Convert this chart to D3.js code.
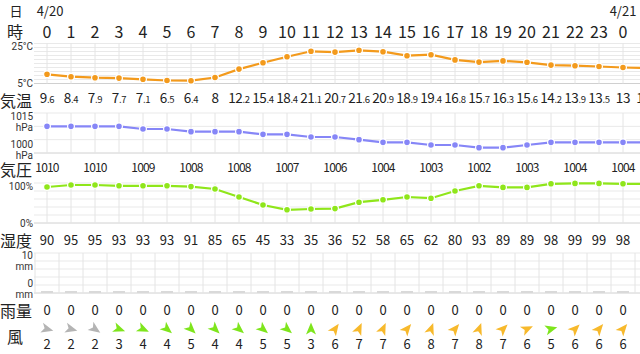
<!DOCTYPE html>
<html>
<head>
<meta charset="utf-8">
<script src="https://cdn.jsdelivr.net/npm/d3@7"></script>
<style>
  body { margin: 0; background: #fff; }
  svg { display: block; font-family: "Noto Sans CJK JP", "Noto Sans", sans-serif; }
</style>
</head>
<body>
<svg id="chart"></svg>
<script>
// hourly data, 4/20 0時 .. 4/21 1時
const hours = [0,1,2,3,4,5,6,7,8,9,10,11,12,13,14,15,16,17,18,19,20,21,22,23,0];
const temps = [9.6,8.4,7.9,7.7,7.1,6.5,6.4,8,12.2,15.4,18.4,21.1,20.7,21.6,20.9,18.9,19.4,16.8,15.7,16.3,15.6,14.2,13.9,13.5,13,12.7];
const pressure = [1010,1010,1010,1010,1009,1009,1008,1008,1008,1007,1007,1006,1006,1005,1004,1004,1003,1003,1002,1002,1003,1004,1004,1004,1004,1004];
const humidity = [90,95,95,93,93,93,91,85,65,45,33,35,36,52,58,65,62,80,93,89,89,98,99,99,98,98];
const rain = [0,0,0,0,0,0,0,0,0,0,0,0,0,0,0,0,0,0,0,0,0,0,0,0,0];
const windSpeed = [2,2,2,3,4,4,5,4,4,5,5,3,6,7,7,6,8,7,8,7,6,5,6,6,6];
const windDir = [105,105,125,110,115,130,135,135,130,130,130,0,35,25,25,40,20,40,20,45,65,75,45,40,40];
const dates = [{i: 0, label: '4/20'}, {i: 24, label: '4/21'}];
const rowLabels = [['時', 31], ['気温', 100], ['気圧', 169], ['湿度', 240], ['雨量', 310], ['風', 336]];

const width = 640, height = 354;
const left = 34;

const svg = d3.select('#chart').attr('width', width).attr('height', height);

const x = d3.scaleLinear().domain([0, 25]).range([47, 647]);

// panel scales (each panel is 40px tall)
const yTemp = d3.scaleLinear().domain([5, 25]).range([83.5, 43.5]);
const yPres = d3.scaleLinear().domain([1000, 1015]).range([153, 113]);
const yHum = d3.scaleLinear().domain([0, 100]).range([223, 183]);
const yRain = d3.scaleLinear().domain([0, 10]).range([293, 253]);

// grid for one panel
function grid(y, step, verticalAt) {
  const g = svg.append('g');
  const [lo, hi] = y.domain();
  g.selectAll('.h')
    .data(d3.range(lo, hi + 0.001, step))
    .join('line')
      .attr('x1', left).attr('x2', width)
      .attr('y1', d => y(d)).attr('y2', d => y(d))
      .attr('stroke', (d, i) => (i === 0 ? '#d0d0d0' : '#e9e9e9'))
      .attr('stroke-width', 1);
  g.selectAll('.v')
    .data(verticalAt)
    .join('line')
      .attr('x1', d => d).attr('x2', d => d)
      .attr('y1', y.range()[1]).attr('y2', y.range()[0])
      .attr('stroke', '#e4e4e4');
}

const centers = d3.range(26).map(i => x(i));
const bounds = d3.range(27).map(i => x(i - 0.5));

grid(yTemp, 2, centers);
grid(yPres, 5, centers);
grid(yHum, 20, centers);
grid(yRain, 2, bounds);

// axis labels
function axisLabel(txt, xx, yy) {
  svg.append('text')
    .attr('x', xx).attr('y', yy)
    .attr('text-anchor', 'end')
    .attr('font-family', 'Roboto, sans-serif')
    .attr('font-size', 10)
    .attr('fill', '#333')
    .text(txt);
}
axisLabel('25°C', 33, 50);
axisLabel('5°C', 33, 87);
axisLabel('1015', 33, 120);
axisLabel('hPa', 33, 130.5);
axisLabel('1000', 33, 148);
axisLabel('hPa', 33, 158.5);
axisLabel('100%', 33, 189.5);
axisLabel('0%', 33, 227);
axisLabel('10', 33, 259);
axisLabel('mm', 33, 269.5);
axisLabel('0', 33, 287);
axisLabel('mm', 33, 297.5);

// header rows
svg.append('text').attr('x', 16).attr('y', 10).attr('text-anchor', 'middle')
  .attr('dominant-baseline', 'central').attr('font-size', 13).attr('fill', '#222').text('日');
svg.selectAll('.date')
  .data(dates)
  .join('text')
    .attr('x', d => x(d.i) + (d.i === 0 ? 3 : 0))
    .attr('y', 10)
    .attr('text-anchor', 'middle')
    .attr('dominant-baseline', 'central')
    .attr('font-size', 13)
    .attr('fill', '#222')
    .text(d => d.label);

svg.selectAll('.rowlabel')
  .data(rowLabels)
  .join('text')
    .attr('x', d => (d[0].length === 1 ? 15 : 16))
    .attr('y', d => d[1])
    .attr('text-anchor', 'middle')
    .attr('dominant-baseline', 'central')
    .attr('font-size', 16)
    .attr('fill', '#222')
    .text(d => d[0]);

svg.selectAll('.hour')
  .data(hours)
  .join('text')
    .attr('x', (d, i) => x(i))
    .attr('y', 31)
    .attr('text-anchor', 'middle')
    .attr('dominant-baseline', 'central')
    .attr('font-size', 16)
    .attr('fill', '#222')
    .text(d => d);

// line series
function series(values, y, color) {
  const line = d3.line().x((d, i) => x(i)).y(d => y(d));
  svg.append('path')
    .datum(values)
    .attr('d', line)
    .attr('fill', 'none')
    .attr('stroke', color)
    .attr('stroke-width', 2.2);
  svg.append('g')
    .selectAll('circle')
    .data(values)
    .join('circle')
      .attr('cx', (d, i) => x(i))
      .attr('cy', d => y(d))
      .attr('r', 3.4)
      .attr('fill', color)
      .attr('stroke', '#fff')
      .attr('stroke-width', 1.2);
}
series(temps, yTemp, '#f39a1c');
series(pressure, yPres, '#8686f7');
series(humidity, yHum, '#8fe61a');

// temperature values, decimal part smaller
const tempText = svg.append('g').selectAll('text')
  .data(temps)
  .join('text')
    .attr('x', (d, i) => x(i))
    .attr('y', 103)
    .attr('text-anchor', 'middle')
    .attr('letter-spacing', -0.3)
    .attr('fill', '#222');
tempText.each(function(d) {
  const s = String(d).split('.');
  const t = d3.select(this);
  t.append('tspan').attr('font-size', 13.5).text(s[0]);
  if (s[1]) t.append('tspan').attr('font-size', 9.5).text('.' + s[1]);
});

// pressure values every 2 hours
svg.append('g').selectAll('text')
  .data(d3.range(0, 25, 2))
  .join('text')
    .attr('x', i => x(i))
    .attr('y', 166)
    .attr('text-anchor', 'middle')
    .attr('dominant-baseline', 'central')
    .attr('font-size', 12)
    .attr('letter-spacing', -0.8)
    .attr('fill', '#222')
    .text(i => pressure[i]);

// humidity values
svg.append('g').selectAll('text')
  .data(humidity.slice(0, 25))
  .join('text')
    .attr('x', (d, i) => x(i))
    .attr('y', 239)
    .attr('text-anchor', 'middle')
    .attr('dominant-baseline', 'central')
    .attr('font-size', 13)
    .attr('fill', '#222')
    .text(d => d);

// rain bars (zero shown as thin gray dash)
svg.append('g').selectAll('rect')
  .data(rain)
  .join('rect')
    .attr('x', (d, i) => x(i) - 6)
    .attr('width', 12)
    .attr('y', d => Math.min(yRain(d), yRain(0) - 2))
    .attr('height', d => Math.max(2, yRain(0) - yRain(d)))
    .attr('fill', d => (d > 0 ? '#5aa0f0' : '#d9d9d9'));

svg.append('g').selectAll('text')
  .data(rain)
  .join('text')
    .attr('x', (d, i) => x(i))
    .attr('y', 309)
    .attr('text-anchor', 'middle')
    .attr('dominant-baseline', 'central')
    .attr('font-size', 13)
    .attr('fill', '#222')
    .text(d => d);

// wind arrows
const windColor = s => (s <= 2 ? '#b4b4b4' : s <= 5 ? '#7ee51c' : '#f7b92c');
svg.append('g').selectAll('path')
  .data(windDir)
  .join('path')
    .attr('d', 'M0,-6.5 L5,5.5 L0,2.5 L-5,5.5 Z')
    .attr('transform', (d, i) => `translate(${x(i)},329) rotate(${d})`)
    .attr('fill', (d, i) => windColor(windSpeed[i]));

svg.append('g').selectAll('text')
  .data(windSpeed)
  .join('text')
    .attr('x', (d, i) => x(i))
    .attr('y', 343)
    .attr('text-anchor', 'middle')
    .attr('dominant-baseline', 'central')
    .attr('font-size', 13)
    .attr('fill', '#222')
    .text(d => d);
</script>
</body>
</html>
